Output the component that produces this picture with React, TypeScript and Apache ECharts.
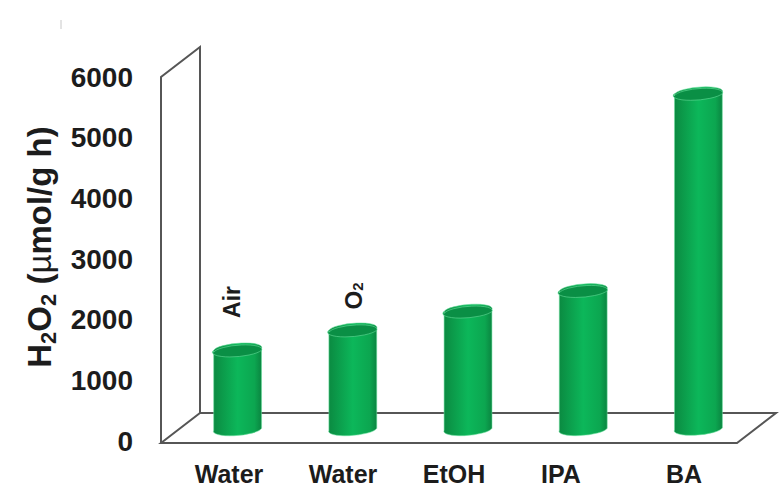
import React, { useEffect, useRef } from "react";
import * as echarts from "echarts";

const categories = ["Water", "Water", "EtOH", "IPA", "BA"];
const rates = [1290, 1620, 1930, 2270, 5520];
const yTicks = { min: 0, max: 6000, interval: 1000 };

const FONT = '"Liberation Sans", Arial, sans-serif';
const INK = "#1c1c1c";
const FRAME = "#565656";
const DEPTH_X = 39;
const DEPTH_Y = 30;
const FLOOR_DROP = 2;
const BAR_DX = 19;
const BAR_DY = 12.5;
const RX = 24;
const RY = 6;
const TILT = 2.1;
const LABEL_SHIFT = [10.4, 9.2, 5, -3.2, 4.6];

const renderFrame = (params: any) => {
  const c = params.coordSys;
  const x0 = c.x, x1 = c.x + c.width, y0 = c.y, y1 = c.y + c.height + FLOOR_DROP;
  const style = { stroke: FRAME, lineWidth: 2, fill: "none" };
  return {
    type: "group",
    children: [
      {
        type: "polyline",
        shape: { points: [[x0, y1], [x0, y0], [x0 + DEPTH_X, y0 - DEPTH_Y], [x0 + DEPTH_X, y1 - DEPTH_Y]] },
        style,
      },
      {
        type: "polygon",
        shape: { points: [[x0, y1], [x0 + DEPTH_X, y1 - DEPTH_Y], [x1 + DEPTH_X, y1 - DEPTH_Y], [x1, y1]] },
        style,
      },
    ],
  };
};

const renderBar = (params: any, api: any) => {
  const i = api.value(0);
  const v = api.value(1);
  const [cx0, top0] = api.coord([i, v]);
  const [, base0] = api.coord([i, 0]);
  const cx = cx0 + BAR_DX;
  const top = top0 - BAR_DY;
  const base = base0 - BAR_DY;
  const l = cx - RX, r = cx + RX;
  const body =
    `M${l} ${top + TILT} L${l} ${base + TILT} ` +
    `A${RX} ${RY} -5 0 0 ${r} ${base - TILT} ` +
    `L${r} ${top - TILT} A${RX} ${RY} -5 0 0 ${l} ${top + TILT} Z`;
  const cap =
    `M${l} ${top + TILT} A${RX} ${RY} -5 0 1 ${r} ${top - TILT} ` +
    `A${RX} ${RY} -5 0 1 ${l} ${top + TILT} Z`;
  const fill = new echarts.graphic.LinearGradient(0, 0, 1, 0, [
    { offset: 0, color: "#0b8a41" },
    { offset: 0.5, color: "#0cb75a" },
    { offset: 0.85, color: "#0ca650" },
    { offset: 1, color: "#0a8440" },
  ]);
  return {
    type: "group",
    children: [
      {
        type: "path",
        shape: { pathData: body, x: l, y: top - RY - TILT, width: r - l, height: base - top + 2 * RY + 2 * TILT },
        style: { fill, stroke: "rgba(110,225,160,0.55)", lineWidth: 1 },
      },
      {
        type: "path",
        shape: { pathData: cap, x: l, y: top - RY - TILT, width: r - l, height: 2 * RY + 2 * TILT },
        style: { fill: "#0a8f45", stroke: "rgba(110,225,160,0.55)", lineWidth: 1 },
      },
    ],
  };
};

export default function App() {
  const ref = useRef<HTMLDivElement>(null);
  useEffect(() => {
    const chart = echarts.init(ref.current!, undefined, { renderer: "svg" });
    const rich: Record<string, any> = {};
    LABEL_SHIFT.forEach((d, i) => {
      rich["c" + i] = {
        fontFamily: FONT,
        fontWeight: "bold",
        fontSize: 25,
        color: INK,
        padding: d >= 0 ? [0, 0, 0, 2 * d] : [0, -2 * d, 0, 0],
      };
    });
    chart.setOption({
      animation: false,
      backgroundColor: "#ffffff",
      grid: { left: 161, right: 47, top: 77, bottom: 57 },
      xAxis: {
        type: "category",
        data: categories,
        axisLine: { show: false },
        axisTick: { show: false },
        splitLine: { show: false },
        axisLabel: {
          margin: 20,
          interval: 0,
          formatter: (value: string, idx: number) => `{c${idx}|${value}}`,
          rich,
        },
      },
      yAxis: {
        type: "value",
        min: yTicks.min,
        max: yTicks.max,
        interval: yTicks.interval,
        axisLine: { show: false },
        axisTick: { show: false },
        splitLine: { show: false },
        axisLabel: {
          margin: 28,
          fontFamily: FONT,
          fontWeight: "bold",
          fontSize: 28,
          color: INK,
          formatter: (v: number) => String(v),
        },
        name: "{b|H}{s|2}{b|O}{s|2}{b| (}{m|µ}{b|mol/g h)}",
        nameLocation: "middle",
        nameRotate: 90,
        nameGap: 101,
        nameTextStyle: {
          padding: [0, 0, 0, 24],
          rich: {
            b: { fontFamily: FONT, fontWeight: "bold", fontSize: 33, color: INK, lineHeight: 41 },
            s: { fontFamily: FONT, fontWeight: "bold", fontSize: 22, color: INK, verticalAlign: "bottom", lineHeight: 31 },
            m: { fontFamily: FONT, fontWeight: "normal", fontSize: 33, color: INK, lineHeight: 41 },
          },
        },
      },
      graphic: [
        {
          type: "line",
          shape: { x1: 61, y1: 20, x2: 61, y2: 29 },
          style: { stroke: "#c8c8c8", lineWidth: 1 },
        },
        {
          type: "text",
          x: 232,
          y: 302,
          rotation: Math.PI / 2,
          style: {
            text: "Air",
            font: `bold 23px ${FONT}`,
            fill: INK,
            align: "center",
            verticalAlign: "middle",
          },
        },
        {
          type: "text",
          x: 353,
          y: 296,
          rotation: Math.PI / 2,
          style: {
            text: "{o|O}{t|2}",
            align: "center",
            verticalAlign: "middle",
            rich: {
              o: { fontFamily: FONT, fontWeight: "bold", fontSize: 24, fill: INK, color: INK },
              t: { fontFamily: FONT, fontWeight: "bold", fontSize: 15, fill: INK, color: INK, verticalAlign: "bottom" },
            },
          },
        },
      ],
      series: [
        { type: "custom", renderItem: renderFrame, data: [[0, 0]], silent: true, z: 1 },
        {
          type: "custom",
          renderItem: renderBar,
          data: categories.map((_, i) => [i, rates[i]]),
          encode: { x: 0, y: 1 },
          z: 2,
        },
      ],
    });
    return () => chart.dispose();
  }, []);
  return <div ref={ref} style={{ position: "fixed", left: 0, top: 0, width: 784, height: 498 }} />;
}
